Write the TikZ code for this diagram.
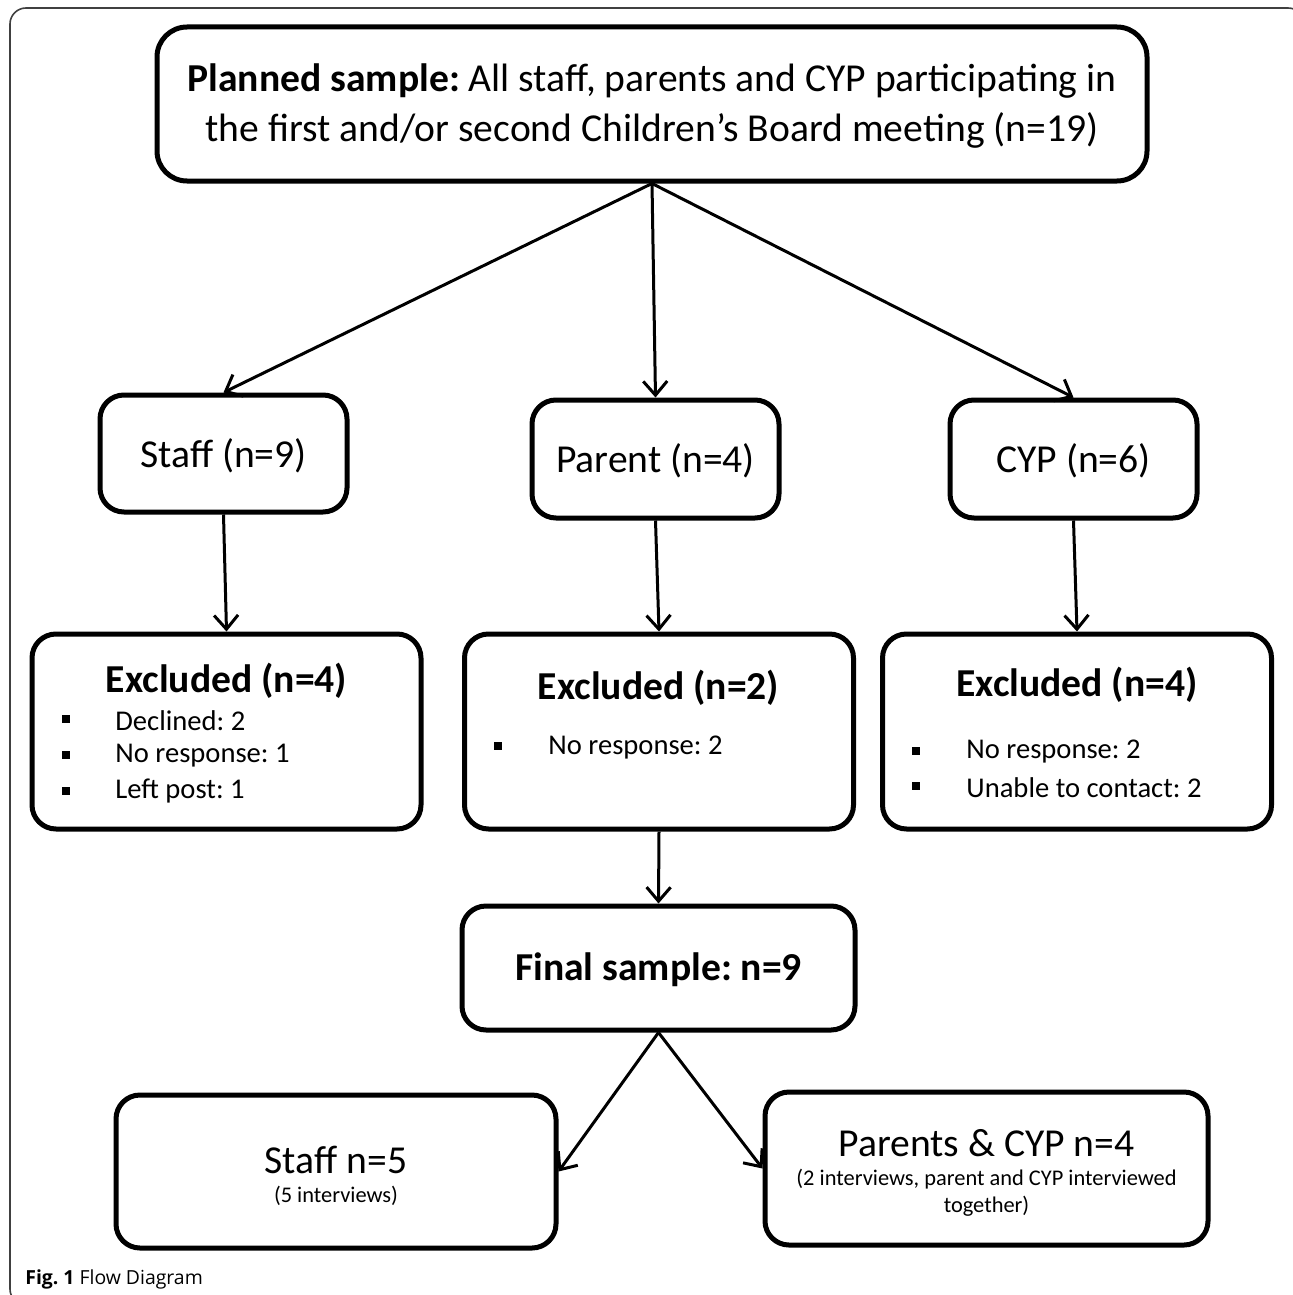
\documentclass[tikz,border=0pt]{standalone}
\usepackage{fontspec}
\setmainfont{Carlito}
\newfontfamily\capfont{Open Sans}
\usetikzlibrary{arrows.meta}

\begin{document}
\frenchspacing
\begin{tikzpicture}[x=0.5pt,y=-0.5pt,
    box/.style={draw,line width=2.5pt,rounded corners=12pt,inner sep=0pt},
    arr/.style={line width=1.5pt,-{Straight Barb[length=7pt,width=12pt,line width=1.5pt]}},
    big/.style={font=\fontsize{19.8}{25}\selectfont,inner sep=0pt},
    bigb/.style={font=\fontsize{19.8}{25}\selectfont\bfseries,inner sep=0pt},
    mid/.style={font=\fontsize{14.3}{17}\selectfont,inner sep=0pt,anchor=west},
    small/.style={font=\fontsize{11.2}{13.5}\selectfont,inner sep=0pt,align=center}]
    \useasboundingbox (0,0) rectangle (1292,1295);
    % Outer frame
    \draw[line width=0.8pt,black!75,rounded corners=8pt] (10,8) rectangle (1304,1305);
    % Boxes
    \node[box,rounded corners=15pt,minimum width=495pt,minimum height=77pt] (planned) at (652,104) {};
    \node[box,minimum width=123.5pt,minimum height=58.5pt] (staff) at (223.5,453.5) {};
    \node[box,minimum width=123.5pt,minimum height=59pt] (parent) at (655.5,459) {};
    \node[box,minimum width=123.5pt,minimum height=59pt] (cyp) at (1073.5,459) {};
    \node[box,minimum width=194.5pt,minimum height=97.5pt] (exc1) at (226.5,731.5) {};
    \node[box,minimum width=194.5pt,minimum height=97.5pt] (exc2) at (659,731.5) {};
    \node[box,minimum width=194.5pt,minimum height=97.5pt] (exc3) at (1077,731.5) {};
    \node[box,minimum width=196.5pt,minimum height=62pt] (final) at (658.5,968) {};
    \node[box,minimum width=220pt,minimum height=76.5pt] (staff5) at (336,1171.5) {};
    \node[box,minimum width=221.5pt,minimum height=76.5pt] (pc) at (986.5,1168.5) {};
    % Texts
    \node[big,align=center] (plannedtxt) at (652,106) {\textbf{Planned sample:} All staff, parents and CYP participating in\\the first and/or second Children’s Board meeting (n=19)};
    \node[big] (stafftxt) at (223.5,456) {Staff (n=9)};
    \node[big] (parenttxt) at (655.5,461) {Parent (n=4)};
    \node[big] (cyptxt) at (1073.5,461) {CYP (n=6)};
    \node[bigb] (exc1title) at (226.5,681) {Excluded (n=4)};
    \node[bigb] (exc2title) at (658.5,688) {Excluded (n=2)};
    \node[bigb] (exc3title) at (1077,685) {Excluded (n=4)};
    \node[mid] (exc1a) at (115,721) {Declined: 2};
    \node[mid] (exc1b) at (115,756) {No response: 1};
    \node[mid] (exc1c) at (115,791) {Left post: 1};
    \node[mid] (exc2a) at (548,748) {No response: 2};
    \node[mid] (exc3a) at (966,752) {No response: 2};
    \node[mid] (exc3b) at (966,788) {Unable to contact: 2};
    \foreach \x/\y in {66/719,66/755,66/791,498/746,916/751,916/786}
        \fill (\x-4,\y-4) rectangle (\x+4,\y+4);
    \node[bigb] (finaltxt) at (658.5,970) {Final sample: n=9};
    \node[big] (staff5txt) at (336,1160) {Staff n=5};
    \node[small] (staff5sub) at (336,1196) {(5 interviews)};
    \node[big] (pctxt) at (986.5,1143) {Parents \& CYP n=4};
    \node[small] (pcsub) at (986.5,1193) {(2 interviews, parent and CYP interviewed\\together)};
    % Arrows
    \draw[arr] (planned.south) -- (staff.north);
    \draw[arr] (planned.south) -- (parent.north);
    \draw[arr] (planned.south) -- (cyp.north);
    \draw[arr] (staff.south) -- (exc1.north);
    \draw[arr] (parent.south) -- (exc2.north);
    \draw[arr] (cyp.south) -- (exc3.north);
    \draw[arr] (exc2.south) -- (final.north);
    \draw[arr] (final.south) -- (staff5.east);
    \draw[arr] (final.south) -- (pc.west);
    % Caption
    \node[anchor=base west,inner sep=0pt,font=\capfont\fontsize{9.7}{11}\selectfont] (caption) at (25,1284) {\textbf{Fig. 1} Flow Diagram};
\end{tikzpicture}
\end{document}
